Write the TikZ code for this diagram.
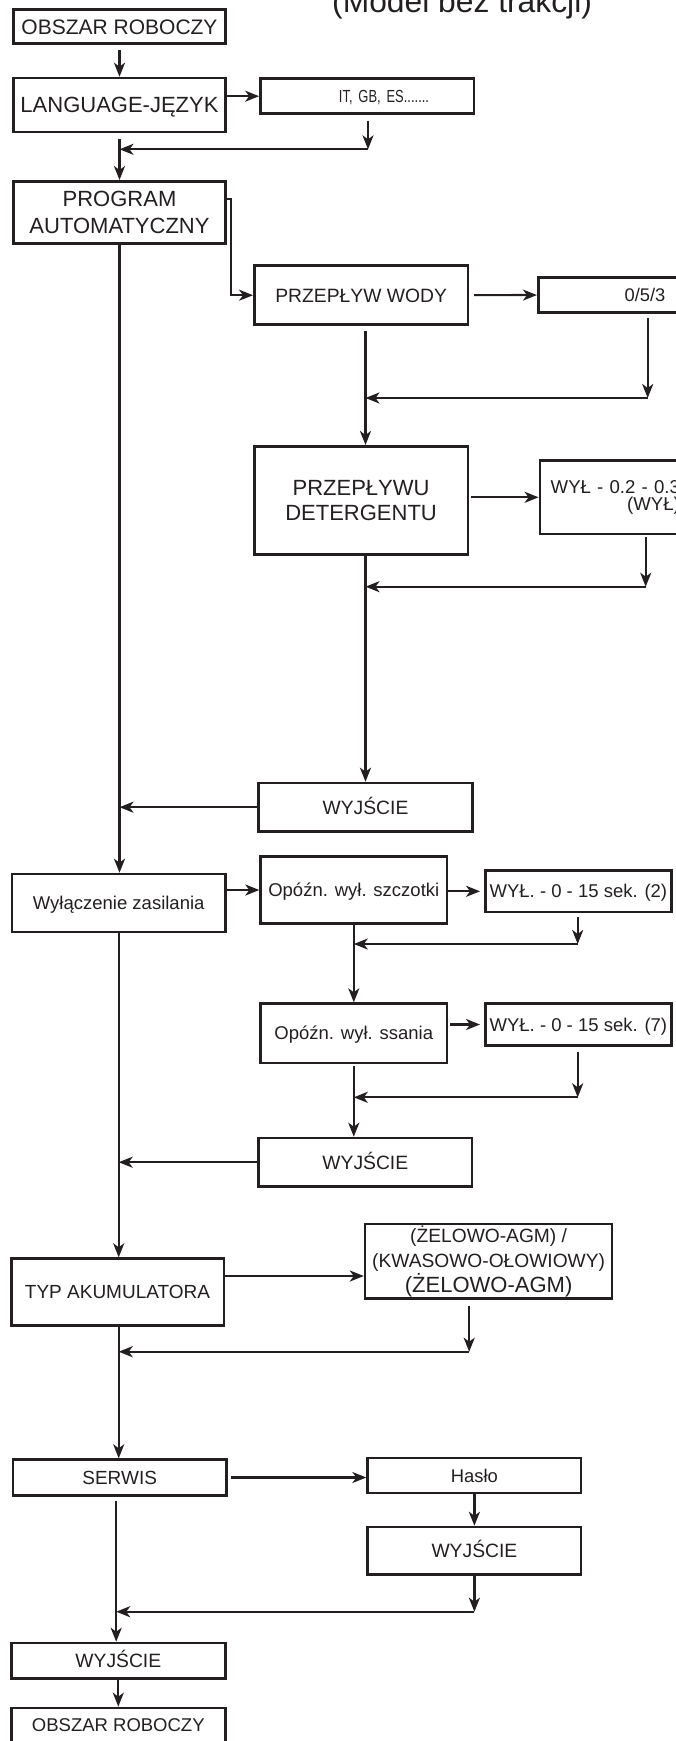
\documentclass[tikz,border=0pt]{standalone}
\usepackage{fontspec}
\setmainfont{Liberation Sans}
\newfontfamily\narrowfont[FakeStretch=0.74]{Liberation Sans}
\usetikzlibrary{arrows.meta}
\definecolor{ink}{RGB}{35,31,32}
\newcommand{\fsz}[2]{\fontsize{#1pt}{#2pt}\selectfont}

\begin{document}
\begin{tikzpicture}[x=1pt, y=-1pt,
    box/.style={draw=ink, line width=2.6pt, inner sep=0pt, align=center, text=ink, minimum width=213.5pt},
    one/.code={\pgfmathsetmacro\capht{0.716*#1}%
      \edef\next{\noexpand\tikzset{font=\noexpand\fsz{#1}{#1}, text height=\capht pt, text depth=0pt}}\next},
    arr/.style={draw=ink, line width=2.2pt, -{Stealth[length=14pt, width=11pt, inset=4pt]}}]
  \useasboundingbox (0,0) rectangle (675,1741);

  \node[anchor=base west, font=\fsz{31.8}{38}, text=ink, inner sep=0pt] at (332,12) (tytul) {(Model bez trakcji)};

  % left column
  \node[box, one=21, minimum width=211.8pt, minimum height=34.1pt] at (119.5,26.7) (obszar) {OBSZAR ROBOCZY};
  \node[box, one=22, minimum width=211.8pt, minimum height=54pt] at (119.5,105) (jezyk) {LANGUAGE-JĘZYK};
  \node[box, font=\fsz{22}{27.7}, minimum width=211.8pt, minimum height=62.4pt] at (119.5,212.5) (program) {PROGRAM\\AUTOMATYCZNY};
  \node[box, one=18.5, minimum height=58pt] at (118.7,903) (zasil) {Wyłączenie zasilania};
  \node[box, one=19, minimum width=212.6pt, minimum height=66.8pt] at (117.5,1292) (akum) {TYP AKUMULATORA};
  \node[box, one=19, minimum height=35.8pt] at (119.7,1477.5) (serwis) {SERWIS};
  \node[box, one=19.3, minimum width=214.1pt, minimum height=35.7pt] at (118.3,1660.9) (wyjscied) {WYJŚCIE};
  \node[box, one=18.5, minimum width=214.1pt, minimum height=34.1pt] at (118.3,1725) (obszarb) {OBSZAR ROBOCZY};

  % middle column
  \node[box, one=17.5, font={\narrowfont\fsz{17.5}{20}}, minimum height=35.1pt, text width=123.7pt, align=right, inner xsep=44.7pt] at (367.2,96.2) (jezykval) {IT, GB, ES.......};
  \node[box, one=19.3, minimum height=59.1pt] at (361.1,295.2) (woda) {PRZEPŁYW WODY};
  \node[box, font=\fsz{22}{25}, minimum height=108.4pt] at (361.1,500.5) (deter) {PRZEPŁYWU\\DETERGENTU};
  \node[box, one=19.3, minimum height=48.4pt] at (365.5,807.2) (wyjscie) {WYJŚCIE};
  \node[box, one=18.5, minimum width=186.4pt, minimum height=67.4pt] at (353.8,890) (szczotki) {Opóźn. wył. szczotki};
  \node[box, one=18.5, minimum width=186.4pt, minimum height=59.4pt] at (353.8,1033.3) (ssanie) {Opóźn. wył. ssania};
  \node[box, one=19.3, minimum height=48.4pt] at (365.3,1162.2) (wyjscieb) {WYJŚCIE};
  \node[box, font=\fsz{19.2}{25}, minimum width=247pt, minimum height=74.7pt] at (488.6,1261.4) (akumval) {(ŻELOWO-AGM) /\\(KWASOWO-OŁOWIOWY)\\{\fsz{22}{25}(ŻELOWO-AGM)}};
  \node[box, one=18.4, minimum height=35pt] at (474.4,1475.5) (haslo) {Hasło};
  \node[box, one=19.3, minimum height=47.7pt] at (474.4,1550.9) (wyjsciec) {WYJŚCIE};

  % right column
  \node[box, one=18.3, minimum height=35.4pt] at (645,295) (wodaval) {0/5/3};
  \node[box, anchor=west, font=\fsz{18.6}{17}, minimum width=0pt, minimum height=73.4pt, text width=131pt, align=right, inner xsep=9pt] at (538.6,497.3) (deterval) {WYŁ - 0.2 - 0.3\\(WYŁ)};
  \node[box, one=18.5, minimum width=186.1pt, minimum height=41.4pt] at (578.4,891.3) (szczotkival) {WYŁ. - 0 - 15 sek. (2)};
  \node[box, one=18.5, minimum width=186.1pt, minimum height=41.8pt] at (578.4,1024.5) (ssanieval) {WYŁ. - 0 - 15 sek. (7)};

  % return points
  \coordinate (jezykj) at (368,149.3);
  \coordinate (wodaj) at (647.7,398);
  \coordinate (deterj) at (645.7,586.7);
  \coordinate (szczotkij) at (577.7,944);
  \coordinate (ssaniej) at (577.7,1097.3);
  \coordinate (akumj) at (469.2,1351.7);
  \coordinate (hasloj) at (474.4,1611.7);
  \coordinate (akumout) at ([yshift=16pt]akum.east);
  \coordinate (serwisout) at ([xshift=-3.5pt]serwis.south);

  % main line
  \draw[arr, shorten <=5pt] (obszar) -- (jezyk);
  \draw[arr, shorten <=6pt] (jezyk) -- (program);
  \draw[arr] (program.south) -- (program.south |- zasil.north);
  \draw[arr] (zasil.south) -- (zasil.south |- akum.north);
  \draw[arr] (akum.south -| zasil.south) -- (serwis.north -| zasil.south);
  \draw[arr, shorten <=4pt] (serwisout) -- (serwisout |- wyjscied.north);
  \draw[arr] (wyjscied) -- (obszarb);

  % language
  \draw[arr] (jezyk.east |- jezykval.west) -- (jezykval.west);
  \draw[arr, shorten <=5.7pt] (jezykval.south -| jezykj) -- (jezykj);
  \draw[arr] (jezykj) -- (jezykj -| jezyk.south);

  % program
  \draw[arr] ([yshift=13.2pt]program.east) -- ++(4.6,0) |- (woda.west);
  \draw[arr, shorten <=5pt] (woda) -- (wodaval);
  \draw[arr, shorten <=4pt] (wodaval.south -| wodaj) -- (wodaj);
  \draw[arr] (wodaj) -- (wodaj -| wyjscie.north);
  \draw[arr, shorten <=5pt] (woda.south -| wyjscie.north) -- (deter.north -| wyjscie.north);
  \draw[arr, shorten <=2pt] (deter.east |- deterval.west) -- (deterval.west);
  \draw[arr, shorten <=2pt] (deterval.south -| deterj) -- (deterj);
  \draw[arr] (deterj) -- (deterj -| wyjscie.north);
  \draw[arr] (deter.south -| wyjscie.north) -- (wyjscie.north);
  \draw[arr] (wyjscie.west) -- (wyjscie.west -| program.south);

  % zasilanie
  \draw[arr] (zasil.east |- szczotki.west) -- (szczotki.west);
  \draw[arr, shorten >=4pt] (szczotki.east |- szczotkival.west) -- (szczotkival.west);
  \draw[arr, shorten <=4pt] (szczotkival.south -| szczotkij) -- (szczotkij);
  \draw[arr] (szczotkij) -- (szczotkij -| szczotki.south);
  \draw[arr] (szczotki) -- (ssanie);
  \draw[arr, shorten <=2pt, shorten >=4pt] (ssanie.east |- ssanieval.west) -- (ssanieval.west);
  \draw[arr, shorten <=5pt] (ssanieval.south -| ssaniej) -- (ssaniej);
  \draw[arr] (ssaniej) -- (ssaniej -| ssanie.south);
  \draw[arr, shorten <=2pt] (ssanie.south) -- (ssanie.south |- wyjscieb.north);
  \draw[arr] (wyjscieb.west) -- (wyjscieb.west -| zasil.south);

  % akumulator
  \draw[arr] (akumout) -- (akumout -| akumval.west);
  \draw[arr, shorten <=6pt] (akumval.south -| akumj) -- (akumj);
  \draw[arr] (akumj) -- (akumj -| zasil.south);

  % serwis
  \draw[arr, shorten <=3pt] (serwis.east) -- (serwis.east -| haslo.west);
  \draw[arr] (haslo) -- (wyjsciec);
  \draw[arr] (wyjsciec.south) -- (hasloj);
  \draw[arr] (hasloj) -- (hasloj -| serwisout);
\end{tikzpicture}
\end{document}
